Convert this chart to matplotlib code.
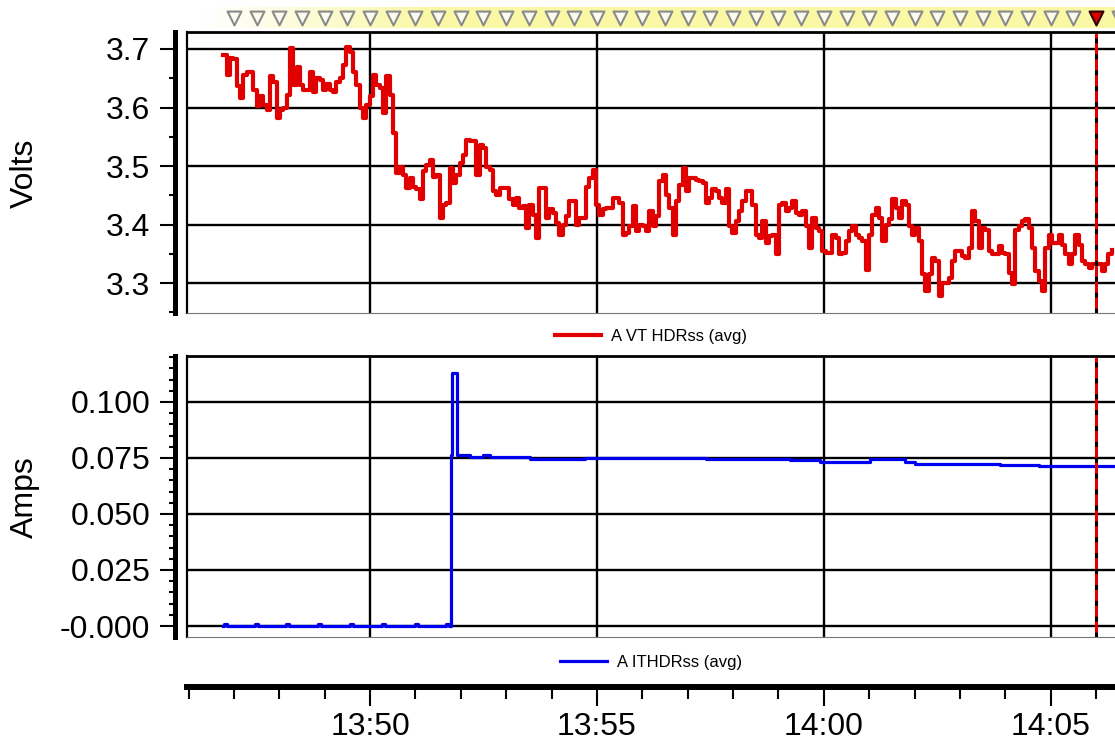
import numpy as np
import pandas as pd
import matplotlib
matplotlib.use('Agg')
import matplotlib.pyplot as plt
import matplotlib.dates as mdates
from matplotlib.ticker import MultipleLocator, FixedLocator, FixedFormatter

plt.rcParams['font.family'] = ['Liberation Sans', 'DejaVu Sans']
plt.rcParams['axes.unicode_minus'] = False

day = '2000-01-01 '

# voltage, one sample every 4.4 s
volt_start = '13:46:46'
volt_step_s = 4.4
volts = [
    3.690, 3.656, 3.684, 3.683, 3.636, 3.616, 3.656, 3.661, 3.661, 3.630,
    3.602, 3.619, 3.605, 3.596, 3.653, 3.644, 3.582, 3.596, 3.599, 3.622,
    3.701, 3.639, 3.670, 3.639, 3.630, 3.630, 3.660, 3.627, 3.650, 3.647,
    3.630, 3.641, 3.630, 3.627, 3.644, 3.650, 3.673, 3.704, 3.695, 3.661,
    3.639, 3.599, 3.582, 3.605, 3.619, 3.656, 3.639, 3.633, 3.590, 3.653,
    3.622, 3.556, 3.488, 3.499, 3.485, 3.462, 3.480, 3.465, 3.460, 3.443,
    3.491, 3.502, 3.511, 3.482, 3.485, 3.411,
    3.434, 3.437, 3.497, 3.471, 3.485, 3.505, 3.519, 3.545, 3.542, 3.542,
    3.485, 3.536, 3.531, 3.499, 3.494, 3.457, 3.451, 3.462, 3.462, 3.462,
    3.443, 3.434, 3.445, 3.428, 3.431, 3.394, 3.434, 3.417, 3.377, 3.462,
    3.462, 3.411, 3.426, 3.420, 3.403, 3.383, 3.400, 3.414, 3.440, 3.440,
    3.400, 3.411, 3.411, 3.465, 3.480, 3.494, 3.434, 3.417, 3.426, 3.428,
    3.428, 3.445, 3.445, 3.437, 3.383, 3.386, 3.397, 3.431, 3.389, 3.400,
    3.397, 3.389, 3.423, 3.397, 3.414, 3.474,
    3.485, 3.451, 3.428, 3.383, 3.440, 3.468, 3.497, 3.457, 3.480, 3.480,
    3.477, 3.474, 3.471, 3.437, 3.445, 3.460, 3.457, 3.445, 3.437, 3.460,
    3.397, 3.386, 3.406, 3.423, 3.440, 3.457, 3.457, 3.434, 3.383, 3.377,
    3.406, 3.369, 3.380, 3.383, 3.349, 3.434, 3.437, 3.423, 3.428, 3.440,
    3.420, 3.417, 3.423, 3.397, 3.360, 3.411, 3.394, 3.389, 3.355, 3.352,
    3.352, 3.383, 3.377, 3.349, 3.352, 3.372, 3.389, 3.397, 3.383, 3.377,
    3.372, 3.323, 3.383, 3.417, 3.428, 3.411, 3.372,
    3.400, 3.409, 3.443, 3.428, 3.411, 3.440, 3.434, 3.397, 3.383, 3.394,
    3.372, 3.315, 3.286, 3.315, 3.343, 3.338, 3.278, 3.301, 3.301, 3.309,
    3.338, 3.355, 3.355, 3.346, 3.343, 3.360, 3.423, 3.406, 3.360, 3.394,
    3.391, 3.355, 3.349, 3.349, 3.363, 3.352, 3.349, 3.318, 3.298, 3.391,
    3.397, 3.406, 3.409, 3.394, 3.360, 3.320, 3.303, 3.286, 3.360, 3.383,
    3.369, 3.369, 3.383, 3.366, 3.349, 3.332, 3.349, 3.383, 3.366, 3.338,
    3.332, 3.326, 3.332, 3.332, 3.332, 3.320, 3.332, 3.349, 3.357,
]

# current, step changes
amp_times = ['13:46:46', '13:46:47', '13:46:51', '13:47:28', '13:47:32',
             '13:48:09', '13:48:13', '13:48:51', '13:48:55', '13:49:34',
             '13:49:38', '13:50:16', '13:50:20', '13:50:59', '13:51:03',
             '13:51:41', '13:51:45', '13:51:47', '13:51:49', '13:51:55',
             '13:52:12', '13:52:29', '13:52:38', '13:53:31', '13:54:44',
             '13:57:16', '13:57:24', '13:59:15', '13:59:55', '14:01:01',
             '14:01:47', '14:02:00', '14:03:53', '14:04:45', '14:06:30']
amps = [0.0, 0.001, 0.0, 0.001, 0.0,
        0.001, 0.0, 0.001, 0.0, 0.001,
        0.0, 0.001, 0.0, 0.001, 0.0,
        0.001, 0.0, 0.0765, 0.113, 0.0765,
        0.0755, 0.0762, 0.0755, 0.0745, 0.0748,
        0.0752, 0.0746, 0.0742, 0.0730, 0.0745,
        0.0730, 0.0724, 0.0720, 0.0713, 0.0713]

x_start, x_end = '13:45:58', '14:06:25'
marker_start, marker_end = '13:47:00', '14:06:30'
cursor = '14:06:00'
amp_ticks = [0.0, 0.025, 0.050, 0.075, 0.100]
amp_ticklabels = ['-0.000', '0.025', '0.050', '0.075', '0.100']

T = lambda s: pd.Timestamp(day + s)
volt_t = T(volt_start) + pd.to_timedelta(np.arange(len(volts)) * volt_step_s, unit='s')
amp_t = [T(s) for s in amp_times]

W, H = 1115, 748
fig = plt.figure(figsize=(W / 100, H / 100), dpi=100)


def box(l, t, r, b):
    return [l / W, 1 - b / H, (r - l) / W, (b - t) / H]


ax1 = fig.add_axes(box(187, 32, 1115, 313))
ax2 = fig.add_axes(box(187, 356, 1115, 637), sharex=ax1)
axx = fig.add_axes(box(187, 685, 1115, 686.5), sharex=ax1)
axb = fig.add_axes(box(187, 7, 1115, 28), sharex=ax1)

ax1.step(volt_t, volts, where='post', color='#E00000', lw=3.0, label='A VT HDRss (avg)')
ax2.step(amp_t, amps, where='post', color='#0000F0', lw=2.3, label='A ITHDRss (avg)')

ax1.set_xlim(T(x_start), T(x_end))
ax1.xaxis.set_major_locator(mdates.MinuteLocator(byminute=range(0, 60, 5)))
ax1.xaxis.set_minor_locator(mdates.MinuteLocator())
ax1.xaxis.set_major_formatter(mdates.DateFormatter('%H:%M'))

ax1.set_ylim(3.249, 3.729)
ax1.yaxis.set_major_locator(MultipleLocator(0.1))
ax1.yaxis.set_minor_locator(MultipleLocator(0.05))
ax2.set_ylim(-0.0049, 0.1205)
ax2.yaxis.set_major_locator(FixedLocator(amp_ticks))
ax2.yaxis.set_major_formatter(FixedFormatter(amp_ticklabels))
ax2.yaxis.set_minor_locator(MultipleLocator(0.005))

for ax in (ax1, ax2):
    ax.spines['left'].set_position(('outward', 8.3))
    ax.spines['left'].set_linewidth(3.6)
    ax.spines['right'].set_visible(False)
    ax.spines['top'].set_linewidth(2)
    ax.spines['bottom'].set_linewidth(0.8)
    ax.spines['bottom'].set_color('#777777')
    ax.plot([0, 0], [0, 1], transform=ax.transAxes, color='black', lw=1.6, clip_on=False)
    ax.tick_params(axis='y', which='major', length=11, width=1.5, labelsize=23, pad=7)
    ax.tick_params(axis='y', which='minor', length=4, width=1.5)
    ax.tick_params(axis='x', which='both', bottom=False, labelbottom=False)
    ax.grid(True, which='major', color='black', lw=1.7)
    ax.set_axisbelow(True)
    ax.axvline(T(cursor), color='#E00000', lw=2.2)
    ax.axvline(T(cursor), color='black', lw=2.2, dashes=(1.6, 3.6))

ax1.legend(loc='center', bbox_to_anchor=(0.5, -0.082), frameon=False, fontsize=12,
           handlelength=2.8, handletextpad=0.6)
ax2.legend(loc='center', bbox_to_anchor=(0.5, -0.089), frameon=False, fontsize=12,
           handlelength=2.8, handletextpad=0.6)

fig.text(25 / W, 1 - 173 / H, 'Volts', rotation=90, ha='center', va='center', fontsize=23)
fig.text(25 / W, 1 - 497 / H, 'Amps', rotation=90, ha='center', va='center', fontsize=23)

# time axis
axx.patch.set_visible(False)
for s in ('left', 'right', 'top'):
    axx.spines[s].set_visible(False)
axx.spines['bottom'].set_linewidth(4.3)
axx.set_yticks([])
axx.tick_params(axis='x', which='major', length=13.5, width=1.5, labelsize=23, pad=5)
axx.tick_params(axis='x', which='minor', length=8.4, width=1.5)

# marker banner
for s in axb.spines.values():
    s.set_visible(False)
axb.set_yticks([])
axb.tick_params(axis='x', which='both', bottom=False, labelbottom=False)
axb.set_ylim(0, 1)
grad = np.ones((1, 200, 4))
grad[..., :3] = np.array([250, 248, 165]) / 255
grad[0, :, 3] = np.clip(np.linspace(0, 1, 200) * 4, 0, 1)
x0 = mdates.date2num(T('13:46:18'))
x1 = mdates.date2num(T(x_end))
axb.imshow(grad, extent=[x0, x1, 0, 1], aspect='auto', interpolation='bilinear')
axb.set_xlim(T(x_start), T(x_end))
marks = pd.date_range(T(marker_start), T(marker_end), freq='30s')
gray = [m for m in marks if m != T(cursor)]
axb.scatter(gray, [0.5] * len(gray), marker='v', s=100, facecolor='#FCFCEE',
            edgecolor='#8A8A8A', linewidths=1.5, clip_on=True, zorder=3)
axb.scatter([T(cursor)], [0.5], marker='v', s=100, facecolor='#E00000',
            edgecolor='#300000', linewidths=1.5, zorder=4)

fig.savefig('out.png', dpi=100)
